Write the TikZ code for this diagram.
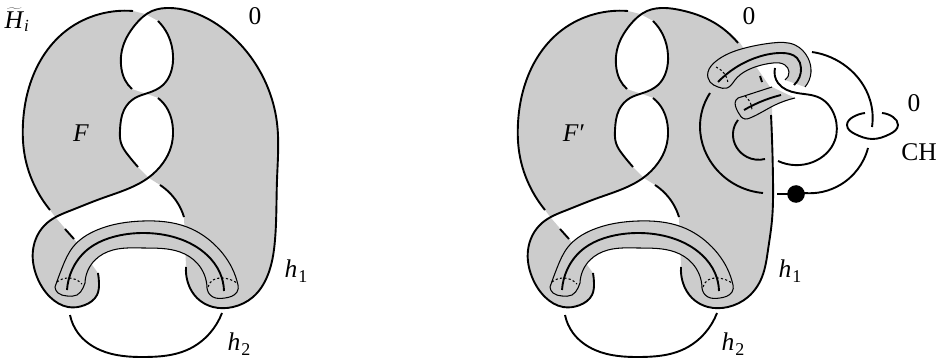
\documentclass[tikz,border=0pt]{standalone}
\usepackage{fontspec}
\setmainfont{Liberation Serif}
\usetikzlibrary{hobby}
\newcommand\hsub[1]{\textit{h}\kern1pt\raisebox{-5pt}{\fontsize{18}{18}\selectfont #1}}
\tikzset{
  thickline/.style={line width=1.9pt,line cap=butt,line join=round},
  thinline/.style={line width=1.05pt,line join=round},
  dotline/.style={line width=1.05pt,dash pattern=on 2.2pt off 2.2pt},
  gr/.style={fill=black!20},
  txt/.style={inner sep=0pt,font=\fontsize{25.5}{25.5}\selectfont}
}
\newcommand\tubepath{(55,287)..(62,268)..(73,247)..(97,230)..(143,221)..(187,227)..(217,247)..(232,268)..(238,285)
  --(238,285)..(237,292)..(225,298)..(213,297)..(207,288)
  --(207,288)..(197,263)..(180,252)..(143,248)..(113,250)..(95,260)..(85,283)
  --(85,283)..(83,288)..(77,295)..(67,296)..(58,293)..(55,287)}
% #1 = right-hand part of the body silhouette, #2 = figure specific dark strands
\newcommand\figcommon[2]{
  \fill[gr] (133,11)..(100,14)..(67,30)..(37,67)..(23,123)..(25,157)..(32,180)..(50,210)
    --(56,218)..(72,210)..(100,199)..(125,190)..(149,178)
    --(160,185)..(177,202)..(184,217)
    --#1 -- cycle;
  \fill[gr] (56,218)..(47,223)..(33,250)..(37,277)..(50,297)..(68,307)..(85,305)..(97,295)..(99,283)..(98,273)
    --(90,262)--(75,240)--cycle;
  \fill[white] (145,14)..(135,25)..(122,50)..(121,65)..(125,80)..(132,89)
    --(147,94)..(163,85)..(171,72)..(173,55)..(168,35)..(158,21)--cycle;
  \fill[white] (147,94)..(135,98)..(124,110)..(120,130)..(121,143)..(128,155)..(138,167)
    --(149,178)..(163,163)..(171,147)..(173,130)..(168,110)..(158,98)--cycle;
  \fill[gr] \tubepath --cycle;
  \draw[thinline] \tubepath;
  \draw[dotline] (57,282)..(68,278)..(82,284);
  \draw[dotline] (208,287)..(213,280)..(222,278)..(237,283);
  \draw[thickline] (67,290)..(72,270)..(87,250)..(113,237)..(143,233)..(177,238)..(207,255)..(220,273)..(224,291);
  \draw[thickline] (133,11)..(100,14)..(67,30)..(37,67)..(23,123)..(25,157)..(32,180)..(50,210);
  \draw[thickline] (65,229)--(74,239);
  \draw[thickline] (98,273)..(99,283)..(97,295)..(85,305)..(68,307)..(50,297)..(37,277)..(33,250)..(47,223)..(72,210)..(100,199)..(125,190)..(148,178)..(163,163)..(171,147)..(173,130)..(168,110)..(158,98);
  \draw[thickline] (158,21)..(168,35)..(173,55)..(171,72)..(163,85)..(148,93)..(135,98)..(124,110)..(120,130)..(121,143)..(128,155)..(138,167);
  \draw[thickline] (160,185)..(177,202)..(184,217);
  \draw[thickline] (70,315)..(78,333)..(100,350)..(145,357)..(187,350)..(210,333)..(222,313);
  #2
}
\begin{document}
\begin{tikzpicture}[x=1pt,y=-1pt,use Hobby shortcut]
\useasboundingbox (0,0) rectangle (947,363);
\fill[white] (0,0) rectangle (947,363);
% left figure
\figcommon{(186,267)..(188,283)..(197,298)..(213,307)..(233,307)..(253,297)..(267,277)..(275,240)..(277,180)..(277,123)..(263,77)..(233,37)..(200,15)..(170,8)..(145,14)}
{\draw[thickline] (186,267)..(188,283)..(197,298)..(213,307)..(233,307)..(253,297)..(267,277)..(275,240)..(277,180)..(277,123)..(263,77)..(233,37)..(200,15)..(170,8)..(152,11)..(135,25)..(122,50)..(121,65)..(125,80)..(132,89);}
% right figure
\begin{scope}[xshift=495pt]
\figcommon{(186,267)..(188,283)..(197,298)..(213,307)..(233,307)..(253,297)..(267,277)..(273,250)..(277,220)..(278,180)..(277,115)--(277,90)--(262,68)--(245,43)..(218,22)..(185,10)..(170,8)..(145,14)}
{\draw[thickline] (186,267)..(188,283)..(197,298)..(213,307)..(233,307)..(253,297)..(267,277)..(273,250)..(277,220)..(278,180)..(276,115);
 \draw[thickline] (243,43)..(218,22)..(185,10)..(170,8)..(152,11)..(135,25)..(122,50)..(121,65)..(125,80)..(132,89);}
\end{scope}
% upper band
\fill[gr] (708,72)..(715,62)..(745,48)..(772,43)..(795,45)..(808,58)..(811,72)..(805,87)
  --(785,80)..(789,72)..(785,65)..(773,63)..(755,67)..(735,80)..(727,88)..(718,87)..(710,82)..(708,72)--cycle;
% lower band
\fill[gr] (738,98)--(772,87)--(795,98)--(775,105)..(750,118)..(745,119)..(738,112)..(736,100)..(738,98)--cycle;
% halo
\draw[white,line width=5pt] (776,78)..(778,83)..(797,93)..(820,98);
% upper band lines
\draw[thinline] (785,80)..(789,72)..(785,65)..(773,63)..(755,67)..(735,80)..(727,88)..(718,87)..(710,82)..(708,72)..(715,62)..(745,48)..(772,43)..(795,45)..(808,58)..(811,72)..(805,87);
\draw[dotline] (716,67)..(723,72)..(728,83);
\draw[thickline] (718,82)..(735,68)..(758,57)..(782,53)..(797,58)..(801,68)..(794,85);
% lower band lines
\draw[thinline] (772,87)--(738,98)..(736,100)..(738,112)..(745,119)..(750,118)..(775,105)..(795,98);
\draw[dotline] (745,96)..(750,102)..(752,110);
\draw[thickline] (744,110)..(765,100)..(781,95);
% knot strands
\draw[thickline] (760,76)--(762,82);
\draw[thickline] (775,68)..(778,83)..(797,93)..(820,98)..(835,117)..(835,140)..(813,162)..(778,161);
\draw[thickline] (765,159)..(747,157)..(733,133)..(738,120);
\draw[thickline] (710,93)..(700,127)..(717,170)..(763,193);
\draw[thickline] (777,194)--(790,194);
\draw[thickline] (804,193)..(840,185)..(868,148);
\draw[thickline] (812,52)..(847,67)..(870,100)..(872,127);
\draw[thickline] (865,113)..(853,117)..(847,125)..(855,134)..(872,139)..(890,134)..(898,125)..(893,117)..(882,113);
\fill (796,194) circle (8.8);
% labels
\node[txt] (ht) at (17,20) {$\widetilde{\hbox{\textit{H}}}_{\hbox{\fontsize{17}{17}\selectfont\textit{i}}}$};
\node[txt] (z1) at (255,16) {0};
\node[txt] (f1) at (81,133) {\textit{F}};
\node[txt] (h11) at (296,271) {\hsub{1}};
\node[txt] (h21) at (239,344) {\hsub{2}};
\node[txt] (z2) at (749,16) {0};
\node[txt] (f2) at (574,133) {\textit{F}\kern1pt′};
\node[txt] (h12) at (790,271) {\hsub{1}};
\node[txt] (h22) at (733,344) {\hsub{2}};
\node[txt] (z3) at (914,103) {0};
\node[txt] (ch) at (919,152) {CH};
\end{tikzpicture}
\end{document}
